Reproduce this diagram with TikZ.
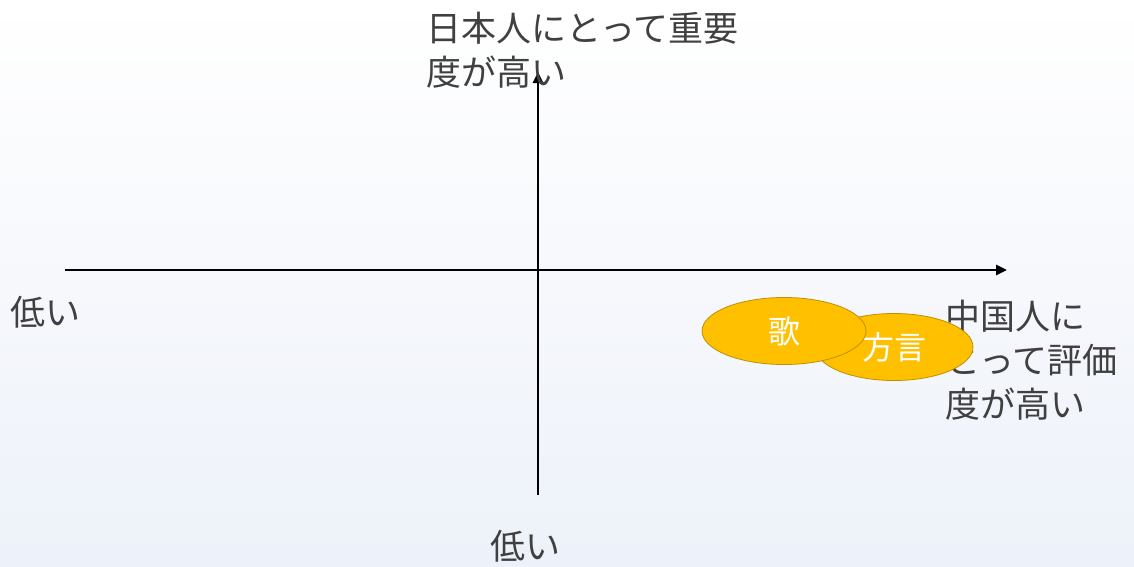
\documentclass[tikz,border=0pt]{standalone}
\usepackage{fontspec}
\newfontfamily\jpfont{Noto Sans CJK JP}
\usetikzlibrary{shapes.geometric,arrows.meta}
\definecolor{labelgray}{HTML}{404040}
\definecolor{bubblefill}{HTML}{FFC000}
\definecolor{bubbleline}{HTML}{BF9000}
\definecolor{bgblue}{HTML}{EDF1F9}
\tikzset{
  axislabel/.style={font=\jpfont\fontsize{35}{44}\selectfont, text=labelgray,
    align=left, inner sep=0pt},
  bubble/.style={ellipse, draw=bubbleline, line width=0.8pt, fill=bubblefill,
    text=white, font=\jpfont\fontsize{32}{36}\selectfont, inner sep=0pt},
  axis/.style={line width=2.6pt, -{Triangle[length=11pt,width=10pt]}}
}
\begin{document}
\begin{tikzpicture}[x=1pt,y=-1pt]
      \useasboundingbox (0,0) rectangle (1134,566);
      \shade[top color=white, bottom color=bgblue] (0,0) rectangle (1134,566);
      \coordinate (left) at (65,270);
      \coordinate (right) at (1007,270);
      \coordinate (bottom) at (538,495);
      \coordinate (top) at (538,72);
      \begin{scope}[axis]
        \draw (left) to (right);
        \draw (bottom) to (top);
      \end{scope}
      \node[axislabel, anchor=north west] (jp) at (426,12) {日本人にとって重要\\度が高い};
      \node[axislabel, anchor=north west] (cn) at (945,300) {中国人に\\とって評価\\度が高い};
      \node[axislabel, anchor=west] (lowx) at (10,312) {低い};
      \node[axislabel, anchor=north west] (lowy) at (490,530) {低い};
      \node[bubble, minimum width=158pt, minimum height=67pt] (dialect) at (894,347) {方言};
      \node[bubble, minimum width=164pt, minimum height=67pt] (song) at (784,331) {歌};
    \end{tikzpicture}
\end{document}
